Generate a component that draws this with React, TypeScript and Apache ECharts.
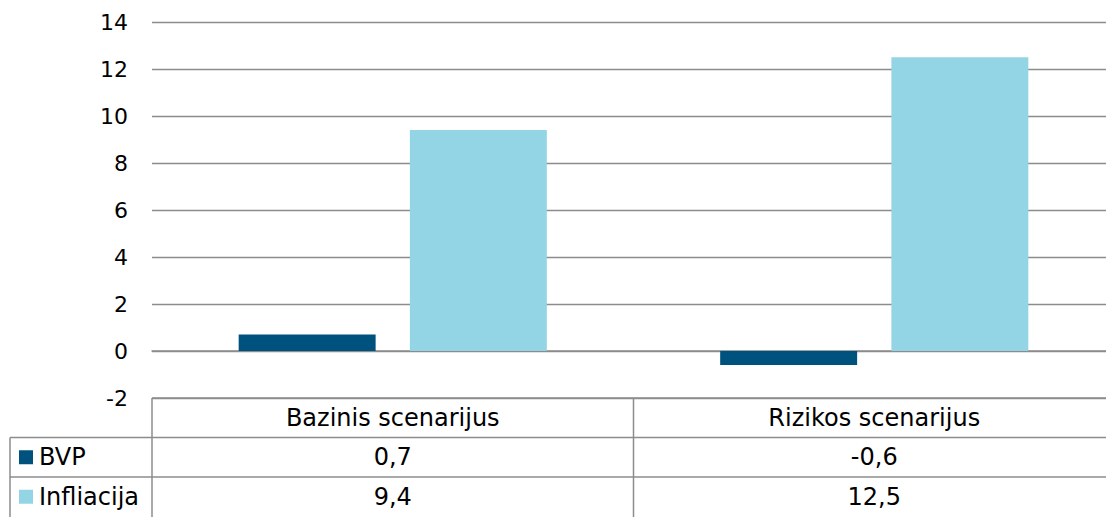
import React, { useEffect, useRef } from "react";
import * as echarts from "echarts";

const categories = ["Bazinis scenarijus", "Rizikos scenarijus"];
const seriesNames = ["BVP", "Infliacija"];
const bvp = [0.7, -0.6];
const infliacija = [9.4, 12.5];
const colors = ["#00527E", "#93D5E4"];
const yTicks = { min: -2, max: 14, interval: 2 };

const FONT = "DejaVu Sans";
const GRID_COLOR = "#8c8c8c";
const fmt = (v: number) => v.toFixed(1).replace(".", ",");

export default function App() {
  const ref = useRef<HTMLDivElement>(null);
  useEffect(() => {
    if (!ref.current) return;
    const chart = echarts.init(ref.current, undefined, { renderer: "svg" });
    const seriesData = [bvp, infliacija];
    chart.setOption({
      animation: false,
      grid: { left: 152, width: 963, top: 22, height: 376, outerBoundsMode: "none", containLabel: false },
      xAxis: {
        type: "category",
        data: categories,
        axisLine: { show: true, onZero: true, lineStyle: { color: GRID_COLOR, width: 1.5 } },
        axisTick: { show: false },
        axisLabel: { show: false },
        splitLine: { show: false },
      },
      yAxis: {
        type: "value",
        min: yTicks.min,
        max: yTicks.max,
        interval: yTicks.interval,
        axisLine: { show: false },
        axisTick: { show: false },
        axisLabel: { fontFamily: FONT, fontSize: 22, color: "#000", margin: 24 },
        splitLine: { lineStyle: { color: GRID_COLOR, width: 1.3 } },
      },
      series: seriesNames.map((name, i) => ({
        name,
        type: "bar",
        data: seriesData[i],
        itemStyle: { color: colors[i] },
        barGap: "25%",
        barCategoryGap: "36%",
      })),
    });

    // Data table built from the arrays, positioned with the axis scales
    const centers = categories.map((_, i) => chart.convertToPixel({ xAxisIndex: 0 }, i) as number);
    const yBottom = chart.convertToPixel({ yAxisIndex: 0 }, yTicks.min) as number;
    const gridLeft = 152;
    const catW = centers.length > 1 ? centers[1] - centers[0] : 480;
    const rowH = 39.5;
    const rows = [yBottom, yBottom + rowH, yBottom + 2 * rowH, yBottom + 3 * rowH];
    const tableLeft = 10;
    const W = 1106;
    const lineStyle = { stroke: GRID_COLOR, lineWidth: 1.5 };
    const TS = 24;
    const elements: any[] = [];
    elements.push({ type: "line", shape: { x1: gridLeft, y1: rows[0], x2: W + 20, y2: rows[0] }, style: lineStyle });
    elements.push({ type: "line", shape: { x1: tableLeft, y1: rows[1], x2: W + 20, y2: rows[1] }, style: lineStyle });
    elements.push({ type: "line", shape: { x1: tableLeft, y1: rows[2], x2: W + 20, y2: rows[2] }, style: lineStyle });
    elements.push({ type: "line", shape: { x1: tableLeft, y1: rows[1], x2: tableLeft, y2: rows[3] + 5 }, style: lineStyle });
    elements.push({ type: "line", shape: { x1: gridLeft, y1: rows[0], x2: gridLeft, y2: rows[3] + 5 }, style: lineStyle });
    centers.forEach((c, i) => {
      if (i > 0) {
        const x = c - catW / 2;
        elements.push({ type: "line", shape: { x1: x, y1: rows[0], x2: x, y2: rows[3] + 5 }, style: lineStyle });
      }
      elements.push({
        type: "text",
        x: c,
        y: (rows[0] + rows[1]) / 2,
        style: { text: categories[i], fontFamily: FONT, fontSize: TS, fill: "#000", align: "center", verticalAlign: "middle" },
      });
      seriesData.forEach((arr, s) => {
        elements.push({
          type: "text",
          x: c,
          y: (rows[s + 1] + rows[s + 2]) / 2,
          style: { text: fmt(arr[i]), fontFamily: FONT, fontSize: TS, fill: "#000", align: "center", verticalAlign: "middle" },
        });
      });
    });
    seriesNames.forEach((name, s) => {
      const cy = (rows[s + 1] + rows[s + 2]) / 2;
      elements.push({ type: "rect", shape: { x: 19, y: cy - 7, width: 14, height: 14 }, style: { fill: colors[s] } });
      elements.push({
        type: "text",
        x: 39,
        y: cy,
        style: { text: name, fontFamily: FONT, fontSize: TS, fill: "#000", align: "left", verticalAlign: "middle" },
      });
    });
    chart.setOption({ graphic: { elements } });

    return () => chart.dispose();
  }, []);
  return <div ref={ref} style={{ position: "fixed", left: 0, top: 0, width: 1106, height: 517, background: "#fff" }} />;
}
